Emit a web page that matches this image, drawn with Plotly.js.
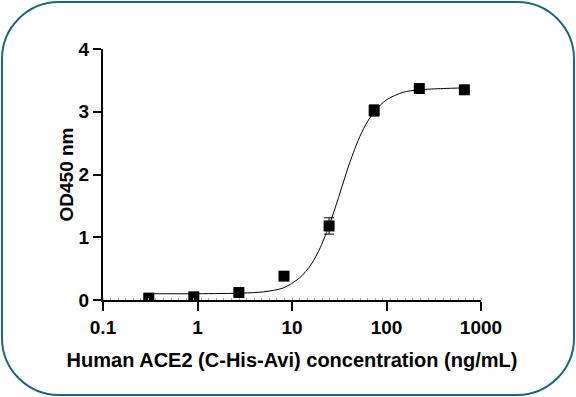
<!DOCTYPE html>
<html>
<head>
<meta charset="utf-8">
<script src="https://cdn.plot.ly/plotly-3.0.1.min.js"></script>
<style>
html,body{margin:0;padding:0;background:#fff;}
#wrap{position:relative;width:576px;height:397px;}
#chart{position:absolute;left:0;top:0;width:576px;height:397px;}
#frame{position:absolute;left:1px;top:1px;width:570px;height:391px;border:2px solid #1b6585;border-radius:58px;pointer-events:none;}
</style>
</head>
<body>
<div id="wrap"><div id="chart"></div><div id="frame"></div></div>
<script>
// Measured data (concentration in ng/mL, OD450)
var concentration = [0.305, 0.914, 2.74, 8.23, 24.69, 74.07, 222.2, 666.7];
var od450 = [0.03, 0.05, 0.12, 0.38, 1.18, 3.02, 3.37, 3.35];
var odError = [0.02, 0.02, 0.02, 0.02, 0.13, 0.09, 0.03, 0.03];

// Fitted curve
var curveX = [0.305, 1, 3, 5, 8, 12, 16, 20, 25, 30, 35, 40, 50, 60, 75, 100, 150, 222, 400, 667];
var curveY = [0.10, 0.10, 0.11, 0.13, 0.19, 0.35, 0.57, 0.84, 1.21, 1.56, 1.88, 2.15, 2.54, 2.79, 3.01, 3.19, 3.31, 3.35, 3.37, 3.38];

var xTickVals = [0.1, 1, 10, 100, 1000];
var xTickText = ['0.1', '1', '10', '100', '1000'];
var yTickVals = [0, 1, 2, 3, 4];

var font = 'Liberation Sans, Arial, sans-serif';

var traces = [
  {
    x: curveX, y: curveY, type: 'scatter', mode: 'lines',
    line: {color: '#000', width: 1, shape: 'spline', smoothing: 0.8},
    hoverinfo: 'skip', showlegend: false
  },
  {
    x: concentration, y: od450, type: 'scatter', mode: 'markers',
    marker: {symbol: 'square', size: 11, color: '#000'},
    error_y: {type: 'data', array: odError, visible: true, color: '#000', thickness: 1, width: 5},
    showlegend: false
  }
];

var layout = {
  width: 576, height: 397,
  margin: {l: 103, r: 95, t: 49, b: 97},
  paper_bgcolor: 'rgba(0,0,0,0)', plot_bgcolor: 'rgba(0,0,0,0)',
  font: {family: font, color: '#000'},
  xaxis: {
    type: 'log', range: [-1, 3],
    tickmode: 'array', tickvals: xTickVals, ticktext: xTickText,
    showline: true, linecolor: '#000', linewidth: 2,
    ticks: 'outside', ticklen: 9, tickwidth: 2, tickcolor: '#000',
    showgrid: false, zeroline: false,
    tickfont: {family: font, size: 19, color: '#000', weight: 'bold'},
    minor: {tickmode: 'linear', tick0: -1, dtick: 0.08, ticks: 'inside', ticklen: 2, tickwidth: 1, tickcolor: '#aaa', showgrid: false},
    title: {text: '<b>Human ACE2 (C-His-Avi) concentration (ng/mL)</b>', font: {family: font, size: 20, color: '#000'}, standoff: 16}
  },
  yaxis: {
    range: [0, 4],
    tickmode: 'array', tickvals: yTickVals,
    showline: true, linecolor: '#000', linewidth: 2,
    ticks: 'outside', ticklen: 8, tickwidth: 2, tickcolor: '#000',
    showgrid: false, zeroline: false,
    tickfont: {family: font, size: 19, color: '#000', weight: 'bold'},
    title: {text: '<b>OD450 nm</b>', font: {family: font, size: 19, color: '#000'}, standoff: 0}
  }
};

Plotly.newPlot('chart', traces, layout, {displayModeBar: false, staticPlot: true});
</script>
</body>
</html>
